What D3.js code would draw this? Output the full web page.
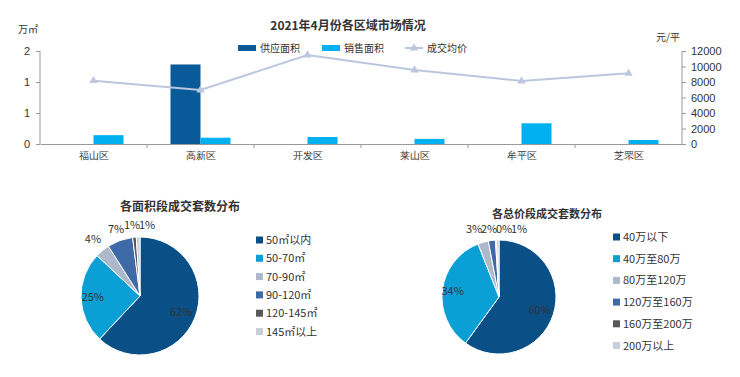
<!DOCTYPE html>
<html><head><meta charset="utf-8">
<script src="https://cdn.jsdelivr.net/npm/d3@7"></script>
<style>body{margin:0;background:#fff}svg{display:block;font-family:"Noto Sans CJK SC","Noto Sans",sans-serif}</style>
</head><body><svg id="c" width="740" height="377"></svg>
<script>
const districts = ["福山区","高新区","开发区","莱山区","牟平区","芝罘区"];
const supplyArea = [0, 1.71, 0, 0, 0, 0];
const salesArea = [0.19, 0.135, 0.15, 0.11, 0.445, 0.086];
const avgPrice = [8170, 6970, 11480, 9550, 8130, 9120];
const leftTicks = [0, 2/3, 4/3, 2];
const rightTicks = [0,2000,4000,6000,8000,10000,12000];

const areaCats = ["50㎡以内","50-70㎡","70-90㎡","90-120㎡","120-145㎡","145㎡以上"];
const areaVals = [62, 25, 4, 7, 1, 1];
const priceCats = ["40万以下","40万至80万","80万至120万","120万至160万","160万至200万","200万以上"];
const priceVals = [60, 34, 3, 2, 0.3, 0.7];
const priceLabels = ["60%","34%","3%","2%","0%","1%"];
const pieColors = ["#0a4f86","#0aa0d6","#adb9ca","#3f6aa8","#595959","#c5d0dc"];

const svg = d3.select("#c");

// bar chart
const x0 = d3.scaleBand().domain(districts).range([40,682]);
const yL = d3.scaleLinear().domain([0,2]).range([144,51]);
const yR = d3.scaleLinear().domain([0,12000]).range([144,51]);
const bw = 30;

svg.append("text").attr("x",348).attr("y",30).attr("text-anchor","middle").attr("font-size",12)
  .attr("font-weight","bold").attr("fill","#333").text("2021年4月份各区域市场情况");
svg.append("text").attr("x",18).attr("y",33).attr("font-size",10).attr("fill","#333").text("万㎡");
svg.append("text").attr("x",656).attr("y",41).attr("font-size",10).attr("fill","#333").text("元/平");

const gL = svg.append("g").attr("transform","translate(40,0)")
  .call(d3.axisLeft(yL).tickValues(leftTicks).tickFormat(d=>d3.format(".0f")(d)).tickSize(4).tickPadding(6));
const gR = svg.append("g").attr("transform","translate(682,0)")
  .call(d3.axisRight(yR).tickValues(rightTicks).tickSize(4).tickPadding(5).tickFormat(d=>d));
[gL,gR].forEach(g=>{g.selectAll("path,line").attr("stroke","#999");g.selectAll("text").attr("fill","#333").attr("font-size",11).attr("font-family","Liberation Sans, Arial");g.select(".domain").attr("d", "M0,51V144");});

const gB = svg.append("g").attr("transform","translate(0,144)")
  .call(d3.axisBottom(x0).tickSize(0).tickPadding(8));
gB.select(".domain").attr("stroke","#999");
gB.selectAll("text").attr("fill","#333").attr("font-size",10);
svg.append("g").selectAll("line").data(districts.slice(1)).join("line")
  .attr("x1",d=>x0(d)).attr("x2",d=>x0(d)).attr("y1",144).attr("y2",148).attr("stroke","#999");

svg.append("g").selectAll("rect").data(districts).join("rect")
  .attr("x",d=>x0(d)+x0.bandwidth()/2-bw).attr("width",bw)
  .attr("y",(d,i)=>yL(supplyArea[i])).attr("height",(d,i)=>144-yL(supplyArea[i])).attr("fill","#085a99");
svg.append("g").selectAll("rect").data(districts).join("rect")
  .attr("x",d=>x0(d)+x0.bandwidth()/2).attr("width",bw)
  .attr("y",(d,i)=>yL(salesArea[i])).attr("height",(d,i)=>144-yL(salesArea[i])).attr("fill","#00b0f0");

const line = d3.line().x((d,i)=>x0(districts[i])+x0.bandwidth()/2).y(d=>yR(d));
svg.append("path").datum(avgPrice).attr("d",line).attr("fill","none").attr("stroke","#bcc7de").attr("stroke-width",2);
const tri = d3.symbol().type(d3.symbolTriangle).size(30);
svg.append("g").selectAll("path").data(avgPrice).join("path")
  .attr("d",tri).attr("transform",(d,i)=>`translate(${x0(districts[i])+x0.bandwidth()/2},${yR(d)})`).attr("fill","#bcc7de");

// bar legend
const lg = svg.append("g").attr("font-size",10).attr("fill","#333");
lg.append("rect").attr("x",238).attr("y",45).attr("width",18).attr("height",6).attr("fill","#085a99");
lg.append("text").attr("x",260).attr("y",52).text("供应面积");
lg.append("rect").attr("x",322).attr("y",45).attr("width",18).attr("height",6).attr("fill","#00b0f0");
lg.append("text").attr("x",344).attr("y",52).text("销售面积");
lg.append("line").attr("x1",405).attr("x2",423).attr("y1",48).attr("y2",48).attr("stroke","#bcc7de").attr("stroke-width",2);
lg.append("path").attr("d",tri).attr("transform","translate(414,48)").attr("fill","#bcc7de");
lg.append("text").attr("x",427).attr("y",52).text("成交均价");

// pies
function drawPie(cx, cy, r, vals, cats, labels, labelPos, fixedX, fixedY, title, tx, ty, tfs, lx, ly, lstep, lfs){
  svg.append("text").attr("x",tx).attr("y",ty).attr("text-anchor","middle").attr("font-size",tfs)
    .attr("font-weight","bold").attr("fill","#333").text(title);
  const arcs = d3.pie().sort(null).value(d=>d)(vals);
  const arc = d3.arc().innerRadius(0).outerRadius(r);
  const g = svg.append("g").attr("transform",`translate(${cx},${cy})`);
  g.selectAll("path").data(arcs).join("path").attr("d",arc).attr("fill",(d,i)=>pieColors[i])
    .attr("stroke","#fff").attr("stroke-width",1);
  g.selectAll("text").data(arcs).join("text")
    .attr("transform",(d,i)=>{
      const a=(d.startAngle+d.endAngle)/2;const rr=r*labelPos[i];
      let x=Math.sin(a)*rr, y=-Math.cos(a)*rr+4;
      if(fixedX[i]!=null){x=fixedX[i]-cx;y=fixedY-cy;}
      return `translate(${x},${y})`;})
    .attr("text-anchor","middle").attr("font-size",11).attr("fill","#333").text((d,i)=>labels[i]);
  const lgd = svg.append("g");
  cats.forEach((c,i)=>{
    lgd.append("rect").attr("x",lx).attr("y",ly+i*lstep-3.5).attr("width",7).attr("height",7).attr("fill",pieColors[i]);
    lgd.append("text").attr("x",lx+10).attr("y",ly+i*lstep+4).attr("font-size",lfs).attr("fill","#333").text(c);
  });
}
drawPie(140,296,59,areaVals,areaCats,areaVals.map(v=>v+"%"),[0.75,0.8,1.25,1.2,1.22,1.22],
  [null,null,null,null,132,147],229,
  "各面积段成交套数分布",180,211,12,256,240,18.3,11);
drawPie(499,297,57,priceVals,priceCats,priceLabels,[0.75,0.82,1.17,1.2,1.2,1.2],
  [null,null,474,489,504,519],233,
  "各总价段成交套数分布",547,218,11,613,237,21.7,11);
</script></body></html>
